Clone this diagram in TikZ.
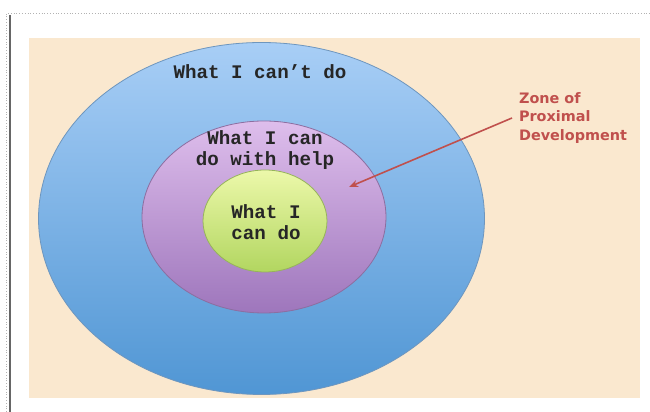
\documentclass[tikz,border=0pt]{standalone}
\usepackage{fontspec}
\setmonofont{Liberation Mono}
\newfontfamily\zpdfont{DejaVu Sans}
\usetikzlibrary{shapes.geometric,arrows.meta}
\definecolor{beige}{RGB}{250,232,207}
\definecolor{zpdred}{RGB}{192,80,77}
\definecolor{blueTop}{RGB}{168,206,246}
\definecolor{blueBot}{RGB}{80,150,212}
\definecolor{blueEdge}{RGB}{110,150,190}
\definecolor{purpTop}{RGB}{222,190,236}
\definecolor{purpBot}{RGB}{158,118,188}
\definecolor{purpEdge}{RGB}{140,110,160}
\definecolor{greenTop}{RGB}{236,248,170}
\definecolor{greenBot}{RGB}{178,214,96}
\definecolor{greenEdge}{RGB}{150,180,90}
\begin{document}
\begin{tikzpicture}[x=0.5pt, y=0.5pt,
  zone/.style={ellipse, inner sep=0pt, draw, line width=0.4pt},
  lbl/.style={font=\ttfamily\bfseries\fontsize{9.6}{10.3}\selectfont, align=center, text=black!85},
  >={Stealth[length=4.5pt, width=3.5pt]}]
\useasboundingbox (0,0) rectangle (650,412);
% page frame
\draw[gray!60, densely dotted] (8,399) -- (650,399);
\draw[gray!60, densely dotted] (6,0) -- (6,399);
\draw[gray!80!black, line width=0.6pt] (10,0) -- (10,397);
\fill[beige] (29,14) rectangle (640,374);
% the three zones
\node (cant) [zone, draw=blueEdge, top color=blueTop, bottom color=blueBot,
  minimum width=223pt, minimum height=176pt] at (261.5,193.5) {};
\node (help) [zone, draw=purpEdge, top color=purpTop, bottom color=purpBot,
  minimum width=122pt, minimum height=96pt] at (264,195) {};
\node (can) [zone, draw=greenEdge, top color=greenTop, bottom color=greenBot,
  minimum width=62pt, minimum height=51pt] at (265,191) {};
\node (cantlbl) [lbl] at (260,340) {What I can’t do};
\node (helplbl) [lbl] at (265,262) {What I can\\do with help};
\node (canlbl) [lbl] at (266,190) {What I\\can do};
% label and arrow
\node (zpd) [anchor=west, align=left, text=zpdred,
  font=\zpdfont\bfseries\fontsize{7.2}{9.3}\selectfont] at (512,294)
  {Zone of\\Proximal\\Development};
\coordinate (tip) at (349,225);
\draw[->, zpdred, line width=0.8pt] (zpd.west) -- (tip);
\end{tikzpicture}
\end{document}
